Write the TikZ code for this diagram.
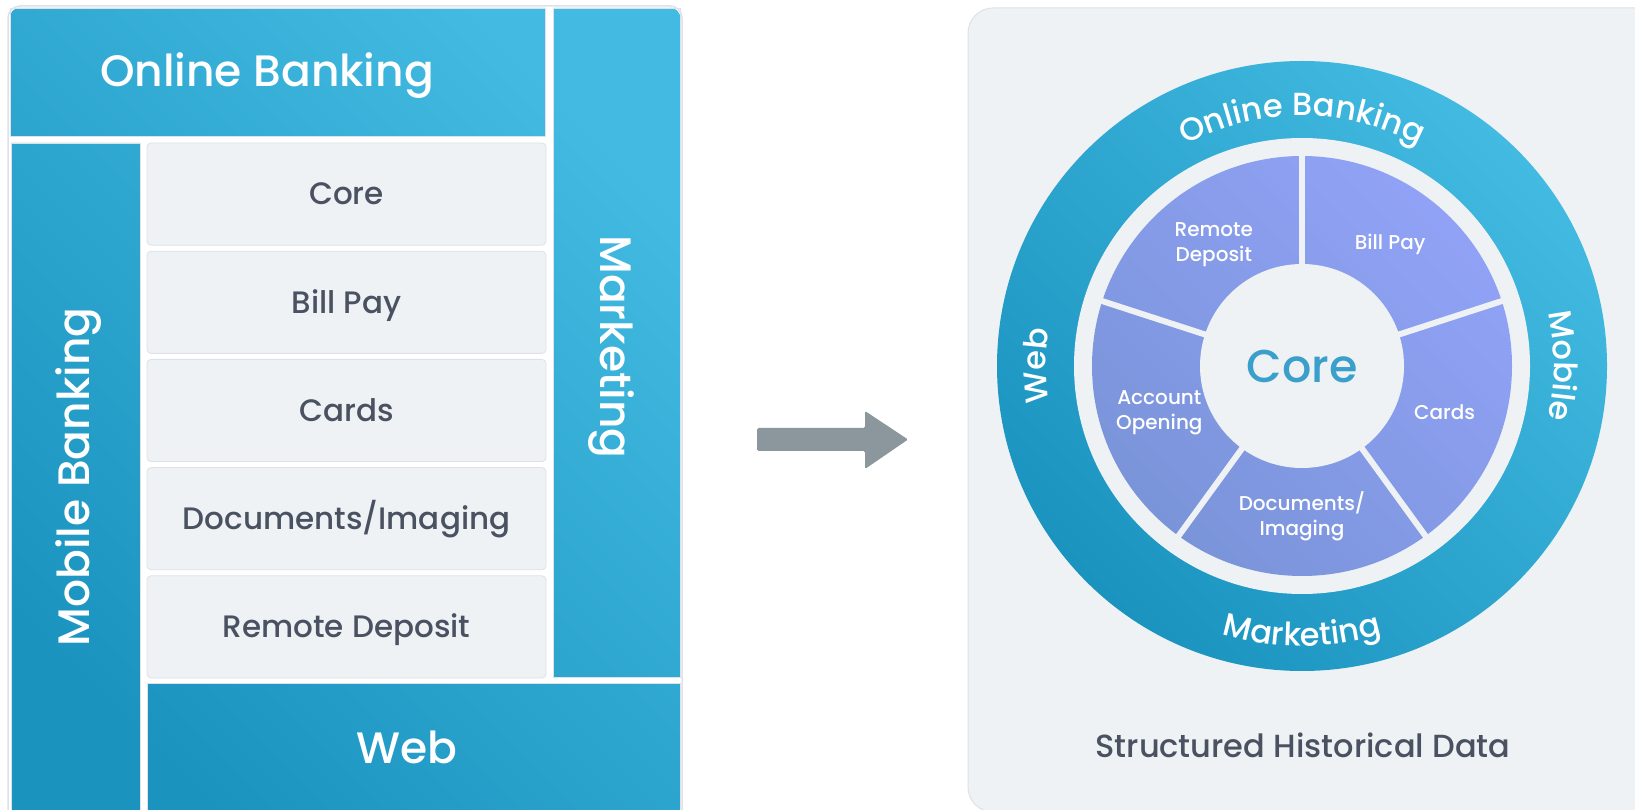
\documentclass[tikz,border=0pt]{standalone}
\usepackage{fontspec}
\IfFontExistsTF{Poppins Medium}{\setmainfont{Poppins Medium}}{\setmainfont{Poppins}[FakeBold=0.4]}
\usetikzlibrary{decorations.text}
\definecolor{bluedark}{HTML}{1A93BF}
\definecolor{bluelight}{HTML}{42BAE1}
\definecolor{purpdark}{HTML}{7A94D9}
\definecolor{purplight}{HTML}{91A2F6}
\definecolor{panelbg}{HTML}{EEF2F5}
\definecolor{panelline}{HTML}{DCE2E8}
\definecolor{textgrey}{HTML}{4A5161}
\definecolor{corecol}{HTML}{3A9FCB}
\definecolor{arrowgrey}{HTML}{8C969D}
\newcommand{\myringfont}{\fontsize{32}{36}\selectfont\color{white}}
\tikzset{
  bluelabel/.style={text=white, font=\fontsize{44}{50}\selectfont, inner sep=0pt, anchor=base},
  greybox/.style={fill=panelbg, draw=panelline, line width=0.8pt, rounded corners=4pt},
  greylabel/.style={text=textgrey, font=\fontsize{31}{36}\selectfont, inner sep=0pt, anchor=base},
  seglabel/.style={text=white, font=\fontsize{20}{25}\selectfont, align=center, inner sep=0pt},
  ringtext/.style={decorate, decoration={text along path, text align=center, text={|\myringfont|#1}}},
  blueshade/.style={bottom color=bluedark, top color=bluelight, shading angle=-45},
  purpshade/.style={bottom color=purpdark, top color=purplight, shading angle=-45},
}
\begin{document}
\begin{tikzpicture}[x=1pt,y=1pt]
\useasboundingbox (0,0) rectangle (1635,809);
\clip (0,0) rectangle (1635,809);
\fill[white] (0,0) rectangle (1635,809);

% ---------- left panel ----------
\draw[panelline, line width=1.5pt, fill=white, rounded corners=12pt] (8,-20) rectangle (682,803);
\begin{scope}
  \clip[rounded corners=11pt] (9.5,-20) rectangle (680.5,801.5);
  \begin{scope}
    \clip (10,673) rectangle (545,801)
          (553,132) rectangle (680,801)
          (11,-20) rectangle (140,666)
          (147,-20) rectangle (680,126);
    \shade[blueshade] (0,-20) rectangle (690,810);
  \end{scope}
\end{scope}
\draw[panelline, line width=0.6pt] (10,673) rectangle (545,801)
      (553,132) rectangle (680,801) (11,-20) rectangle (140,666) (147,-20) rectangle (680,126);

\node[bluelabel] (online) at (267,722) {Online Banking};
\node[bluelabel, rotate=-90] (marketing) at (600.5,462) {Marketing};
\node[bluelabel, rotate=90] (mobile) at (89,332) {Mobile Banking};
\node[bluelabel] (web) at (407,46) {Web};

\draw[greybox] (147,563.8) rectangle (546,666);
\draw[greybox] (147,455.6) rectangle (546,557.8);
\draw[greybox] (147,347.4) rectangle (546,449.6);
\draw[greybox] (147,239.2) rectangle (546,341.4);
\draw[greybox] (147,131) rectangle (546,233.2);
\node[greylabel] (lcore) at (346.5,604) {Core};
\node[greylabel] (lbill) at (346.5,495.8) {Bill Pay};
\node[greylabel] (lcards) at (346.5,387.6) {Cards};
\node[greylabel] (ldocs) at (346.5,279.4) {Documents/Imaging};
\node[greylabel] (lremote) at (346.5,171.2) {Remote Deposit};

% ---------- arrow ----------
\fill[arrowgrey, rounded corners=1.5pt] (757,381) -- (865,381) -- (865,398) -- (908,369.5)
   -- (865,340) -- (865,358) -- (757,358) -- cycle;

% ---------- right panel ----------
\draw[panelline, fill=panelbg, rounded corners=25pt, line width=1pt] (968,-3) rectangle (1680,801);
\coordinate (C) at (1302,443);
\shade[blueshade] (C) circle[radius=305];
\fill[panelbg] (C) circle[radius=228];
\shade[purpshade] (C) circle[radius=210];
\foreach \a in {90,18,-54,-126,162} \draw[panelbg, line width=6pt] (C) -- ++(\a:216);
\fill[panelbg] (C) circle[radius=102];

\path[ringtext={Online Banking}] (C) ++(160:250) arc[start angle=160, end angle=20, radius=250];
\path[ringtext={Mobile}] (C) ++(40:252) arc[start angle=40, end angle=-40, radius=252];
\path[ringtext={Marketing}] (C) ++(220:280) arc[start angle=220, end angle=320, radius=280];
\path[ringtext={Web}] (C) ++(220:256) arc[start angle=220, end angle=140, radius=256];

\node[text=corecol, font=\fontsize{46}{50}\selectfont, inner sep=0pt] (core) at (1302,442) {Core};
\node[seglabel] (billpay) at ([shift={(54:150)}]C) {Bill Pay};
\node[seglabel] (cards) at ([shift={(-18:150)}]C) {Cards};
\node[seglabel] (docs) at ([shift={(-90:150)}]C) {Documents/\\Imaging};
\node[seglabel] (account) at ([shift={(-162:150)}]C) {Account\\Opening};
\node[seglabel] (remote) at ([shift={(126:150)}]C) {Remote\\Deposit};

\node[text=textgrey, font=\fontsize{32}{36}\selectfont, inner sep=0pt] (caption) at (1303,64) {Structured Historical Data};
\end{tikzpicture}
\end{document}
